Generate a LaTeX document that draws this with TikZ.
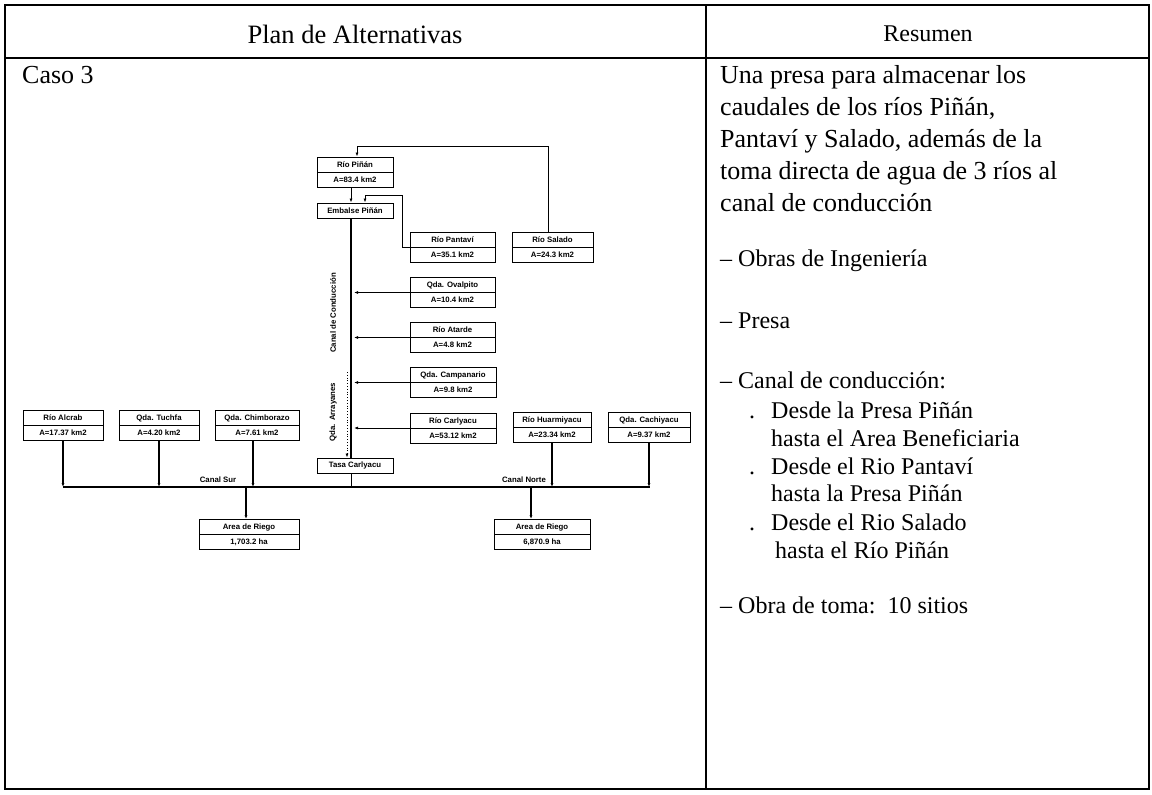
\documentclass[tikz,border=0pt]{standalone}
\usepackage{fontspec}
\setmainfont{Liberation Serif}
\newfontfamily\diagfont{Liberation Sans}
\usetikzlibrary{arrows.meta}
\begin{document}
\begin{tikzpicture}[x=1pt,y=-1pt,
  frame/.style={line width=1.5pt},
  big/.style={font=\fontsize{24}{30}\selectfont},
  txt/.style={font=\fontsize{24}{30}\selectfont, anchor=base west, inner sep=0pt},
  txtb/.style={font=\fontsize{26}{30}\selectfont, anchor=base west, inner sep=0pt},
  rbox/.style={draw, line width=0.9pt, minimum width=#1, minimum height=30pt, inner sep=0pt,
    align=center, font=\diagfont\bfseries\fontsize{7.8}{15}\selectfont,
    path picture={\draw[line width=0.8pt] (path picture bounding box.west) -- (path picture bounding box.east);}},
  sbox/.style={draw, line width=0.9pt, minimum width=#1, minimum height=15pt, inner sep=0pt,
    font=\diagfont\bfseries\fontsize{7.8}{8}\selectfont},
  lbl/.style={font=\diagfont\bfseries\fontsize{7.8}{8}\selectfont, inner sep=0pt},
  ln/.style={line width=0.8pt},
  tk/.style={line width=1.6pt},
  arr/.style={-{Latex[length=4pt,width=3pt]}},
]
\useasboundingbox (0,0) rectangle (1152,795);
% frame
\draw[frame] (5,5) rectangle (1149,789);
\draw[frame] (5,58) -- (1149,58);
\draw[frame] (706,5) -- (706,789);
\node[font=\fontsize{26.5}{30}\selectfont] (h1) at (355,34) {Plan de Alternativas};
\node[big] (h2) at (928,34) {Resumen};
\node[txtb] (caso) at (22,83) {Caso 3};
% right column
\node[txtb] (r1) at (720,83) {Una presa para almacenar los};
\node[txtb] (r2) at (720,115) {caudales de los ríos Piñán,};
\node[txtb] (r3) at (720,147) {Pantaví y Salado, además de la};
\node[txtb] (r4) at (720,179) {toma directa de agua de 3 ríos al};
\node[txtb] (r5) at (720,211) {canal de conducción};
\node[txt] (r6) at (720,266) {– Obras de Ingeniería};
\node[txt] (r7) at (720,328) {– Presa};
\node[txt] (r8) at (720,388) {– Canal de conducción:};
\node[txt] (d1) at (749,418) {.};
\node[txt] (r9) at (771,418) {Desde la Presa Piñán};
\node[txt] (r10) at (771,446) {hasta el Area Beneficiaria};
\node[txt] (d2) at (749,474) {.};
\node[txt] (r11) at (771,474) {Desde el Rio Pantaví};
\node[txt] (r12) at (771,501) {hasta la Presa Piñán};
\node[txt] (d3) at (749,530) {.};
\node[txt] (r13) at (771,530) {Desde el Rio Salado};
\node[txt] (r14) at (775,558) {hasta el Río Piñán};
\node[txt] (r15) at (720,613) {– Obra de toma:\ \ 10 sitios};
% diagram boxes
\node[rbox=76pt] (pinan) at (355,172) {Río Piñán\\A=83.4 km2};
\node[sbox=76pt] (embalse) at (355,210.5) {Embalse Piñán};
\node[rbox=85pt] (pantavi) at (452.5,247) {Río Pantaví\\A=35.1 km2};
\node[rbox=81pt] (salado) at (552.5,247) {Río Salado\\A=24.3 km2};
\node[rbox=85pt] (ovalpito) at (452.5,292.5) {Qda. Ovalpito\\A=10.4 km2};
\node[rbox=85pt] (atarde) at (452.5,337.5) {Río Atarde\\A=4.8 km2};
\node[rbox=86pt] (campanario) at (453,382.5) {Qda. Campanario\\A=9.8 km2};
\node[rbox=86pt] (carlyacu) at (453,428) {Río Carlyacu\\A=53.12 km2};
\node[rbox=78pt] (huarmiyacu) at (552,427) {Río Huarmiyacu\\A=23.34 km2};
\node[rbox=82pt] (cachiyacu) at (649,427) {Qda. Cachiyacu\\A=9.37 km2};
\node[rbox=80pt] (alcrab) at (63,425) {Río Alcrab\\A=17.37 km2};
\node[rbox=80pt] (tuchfa) at (159,425) {Qda. Tuchfa\\A=4.20 km2};
\node[rbox=84pt] (chimborazo) at (257,425) {Qda. Chimborazo\\A=7.61 km2};
\node[sbox=76pt] (tasa) at (355,465.5) {Tasa Carlyacu};
\node[rbox=100pt] (area1) at (249,534.5) {Area de Riego\\1,703.2 ha};
\node[rbox=96pt] (area2) at (542,534.5) {Area de Riego\\6,870.9 ha};
% coordinates
\coordinate (cx) at (351,0);
\coordinate (top) at (357,146);
\coordinate (pb) at (402,195);
\coordinate (cl) at (63,487);
\coordinate (cr) at (650,487);
\coordinate (aq) at (347,372);
% connectors
\draw[ln,arr] (salado.north -| 548,0) |- (top) -- (pinan.north -| top);
\draw[ln,arr] (pinan.south -| cx) -- (embalse.north -| cx);
\draw[ln,arr] (pantavi.west) -| (pb) -| ([xshift=10pt]embalse.north);
\draw[tk] (embalse.south -| cx) -- (tasa.north -| cx);
\draw[ln,dotted,arr] (aq) -- (tasa.north -| aq);
\draw[ln,arr] (ovalpito.west) -- ([xshift=3pt]ovalpito.west -| cx);
\draw[ln,arr] (atarde.west) -- ([xshift=3pt]atarde.west -| cx);
\draw[ln,arr] (campanario.west) -- ([xshift=3pt]campanario.west -| cx);
\draw[ln,arr] (carlyacu.west) -- ([xshift=3pt]carlyacu.west -| cx);
\draw[ln] (tasa.south -| cx) -- (cl -| cx);
\draw[tk] (cl) -- (cr);
\draw[tk,arr] (alcrab.south) -- (alcrab.south |- cl);
\draw[tk,arr] (tuchfa.south) -- (tuchfa.south |- cl);
\draw[tk,arr] ([xshift=-4pt]chimborazo.south) -- ([xshift=-4pt]chimborazo.south |- cl);
\draw[tk,arr] (huarmiyacu.south) -- (huarmiyacu.south |- cl);
\draw[tk,arr] (cachiyacu.south) -- (cachiyacu.south |- cl);
\draw[tk,arr] (cl -| 246,0) -- (area1.north -| 246,0);
\draw[tk,arr] (cl -| 531,0) -- (area2.north -| 531,0);
% labels
\node[lbl, rotate=90] (canalc) at (333,313) {Canal de Conducción};
\node[lbl, rotate=90] (arrayanes) at (333,412) {Qda. Arrayanes};
\node[lbl] (csur) at (218,480) {Canal Sur};
\node[lbl] (cnorte) at (524,480) {Canal Norte};
\end{tikzpicture}
\end{document}
